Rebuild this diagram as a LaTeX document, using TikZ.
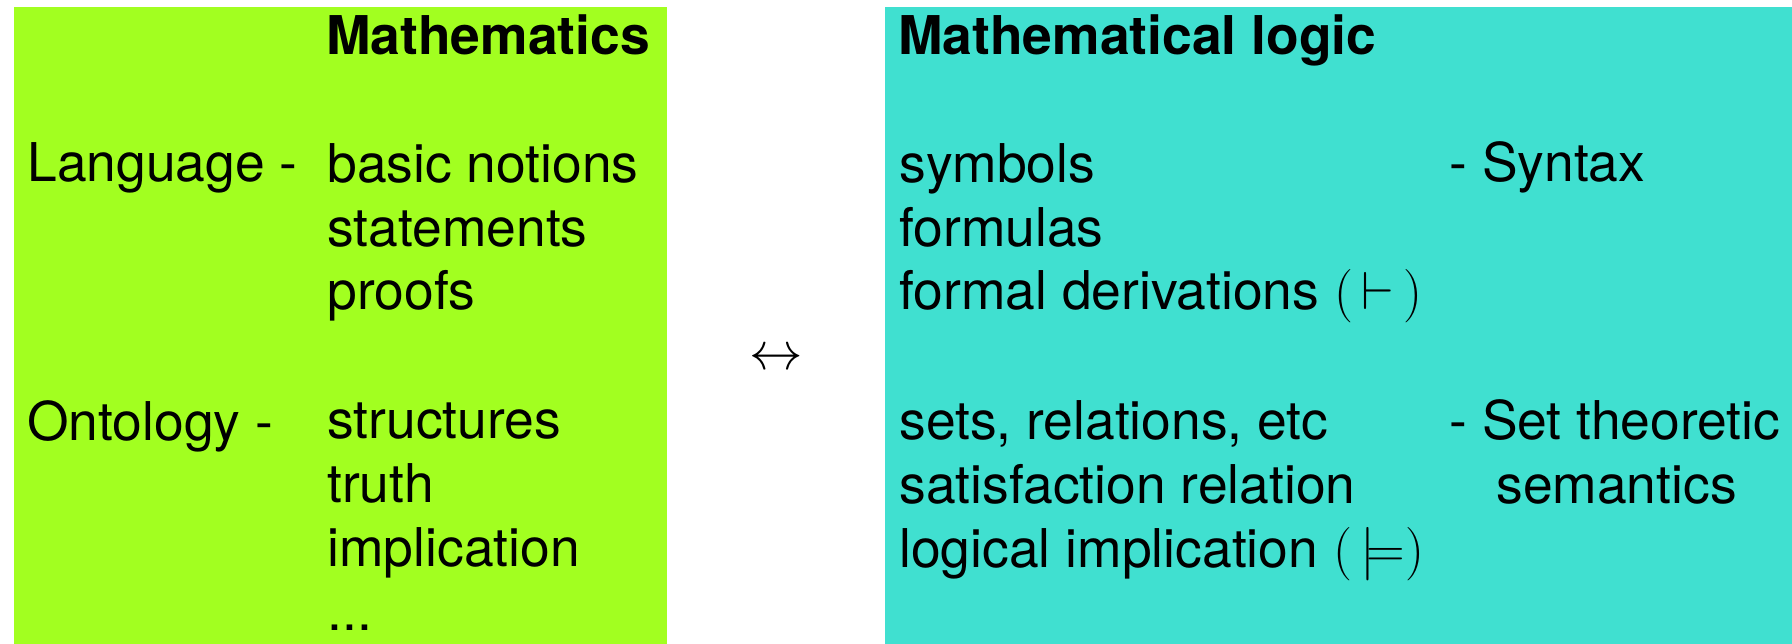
\RequirePackage{fix-cm}
\documentclass[tikz,border=0pt]{standalone}
\usepackage{fontspec}
\setmainfont{TeX Gyre Heros}
\usepackage{tikz}
\usetikzlibrary{positioning}
\definecolor{mgreen}{RGB}{162,255,32}
\definecolor{mturq}{RGB}{64,224,208}

\begin{document}
\begin{tikzpicture}[
    txt/.style={anchor=base west, inner sep=0pt, align=left,
                font=\fontsize{30.4}{36.3}\selectfont},
    head/.style={txt, font=\fontsize{30.4}{36.3}\selectfont\bfseries},
  ]
    \useasboundingbox (0,0) rectangle (35.84,-12.88);
    \fill[mgreen] (0.28,-0.14)  rectangle (13.34,-12.88);
    \fill[mturq]  (17.70,-0.14) rectangle (35.84,-12.88);

    % left: mathematics (multi-line nodes sit on their last baseline)
    \node[head] (math)  at (6.52,-1.10)  {Mathematics};
    \node[txt]  (lang)  at (0.54,-3.64)  {Language -};
    \node[txt]  (langl) at (6.54,-6.20)  {basic notions\\statements\\proofs};
    \node[txt]  (onto)  at (0.54,-8.80)  {Ontology -};
    \node[txt]  (ontol) at (6.54,-12.60) {structures\\truth\\implication\\...};

    \node (arr) at (15.52,-7.20) {\fontsize{30.4}{36}\selectfont$\leftrightarrow$};

    % right: mathematical logic
    \node[head] (logic) at (17.96,-1.10) {Mathematical logic};
    \node[txt]  (synl)  at (17.98,-6.20)
      {symbols\\formulas\\formal derivations $(\,\vdash\,)$};
    \node[txt]  (seml)  at (17.98,-11.34)
      {sets, relations, etc\\satisfaction relation\\logical implication $(\,\models)$};
    \node[txt]  (syn)   at (28.98,-3.64) {- Syntax};
    \node[txt]  (sem)   at (28.98,-10.06) {- Set theoretic\\\hspace*{0.88em}semantics};
  \end{tikzpicture}
\end{document}
